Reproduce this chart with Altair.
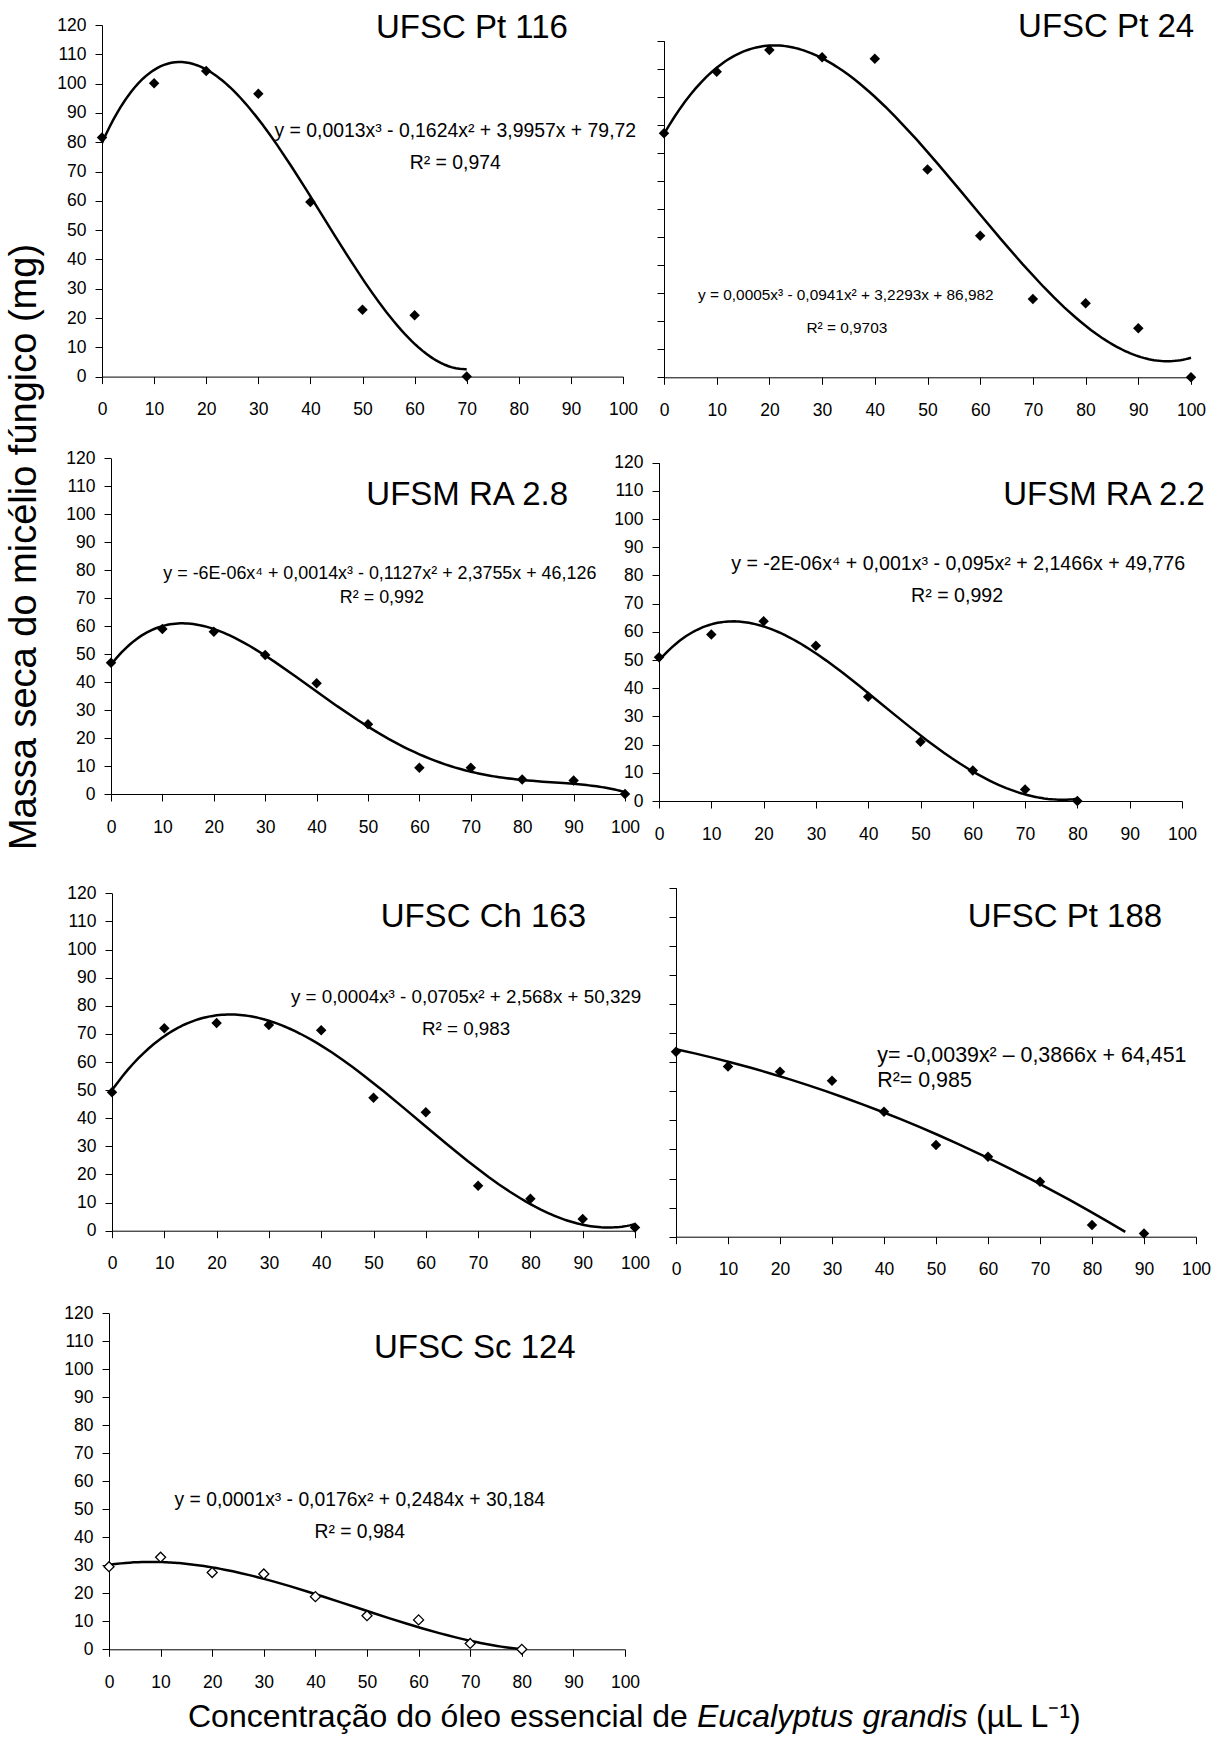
import altair as alt
import pandas as pd

W, H = 1212, 1746

conc = [0, 10, 20, 30, 40, 50, 60, 70, 80, 90, 100]

pt116 = [81.6, 100.1, 104.3, 96.5, 59.6, 22.8, 20.9, 0.0]
pt24 = [87.0, 108.9, 116.7, 114.1, 113.6, 74.1, 50.5, 27.9, 26.4, 17.5, 0.0]
ra28 = [46.9, 59.0, 58.0, 49.7, 39.6, 24.9, 9.4, 9.4, 5.2, 4.8, 0.0]
ra22 = [51.0, 59.1, 63.8, 55.1, 37.0, 21.0, 10.8, 4.1, 0.0]
ch163 = [49.2, 72.0, 73.9, 73.2, 71.3, 47.3, 42.1, 16.0, 11.4, 4.2, 1.1]
pt188 = [63.6, 58.5, 56.7, 53.6, 43.0, 31.5, 27.5, 18.9, 4.0, 1.1]
sc124 = [29.5, 32.9, 27.4, 26.9, 18.8, 12.0, 10.5, 2.1, 0.0]

series = [pt116, pt24, ra28, ra22, ch163, pt188, sc124]
titles = ["UFSC Pt 116", "UFSC Pt 24", "UFSM RA 2.8", "UFSM RA 2.2",
          "UFSC Ch 163", "UFSC Pt 188", "UFSC Sc 124"]
equations = [
    "y = 0,0013x³ - 0,1624x² + 3,9957x + 79,72",
    "y = 0,0005x³ - 0,0941x² + 3,2293x + 86,982",
    "y = -6E-06x⁴ + 0,0014x³ - 0,1127x² + 2,3755x + 46,126",
    "y = -2E-06x⁴ + 0,001x³ - 0,095x² + 2,1466x + 49,776",
    "y = 0,0004x³ - 0,0705x² + 2,568x + 50,329",
    "y= -0,0039x² – 0,3866x + 64,451",
    "y = 0,0001x³ - 0,0176x² + 0,2484x + 30,184",
]
r2_labels = ["R² = 0,974", "R² = 0,9703", "R² = 0,992", "R² = 0,992",
             "R² = 0,983", "R²= 0,985", "R² = 0,984"]
fit_order = [3, 3, 4, 4, 3, 2, 3]

# ---- layout / style (pixels) ----
panel_x = [(102, 623), (664, 1191), (111, 625), (659, 1182),
           (112, 635), (676, 1196), (109, 625)]
panel_y = [(376.6, 25), (377.3, 40.7), (794, 458.3), (801, 462.7),
           (1230.7, 893.3), (1236.7, 887.7), (1649.3, 1313.3)]
y_labels = [True, False, True, True, True, False, True]
open_marker = [False, False, False, False, False, False, True]

# annotation anchor positions in data units (x, y)
title_pos = [(71.0, 115.6), (83.9, 121.3), (69.3, 103.2), (85.1, 105.0),
             (71.0, 108.0), (74.8, 106.5), (70.9, 104.0)]
eq_pos = [(67.8, 81.8), (34.5, 27.6), (52.3, 76.9), (57.2, 81.9),
          (67.7, 80.9), (38.7, 60.1), (48.6, 51.2)]
r2_pos = [(67.8, 70.9), (34.7, 15.8), (52.7, 68.4), (57.0, 70.6),
          (67.7, 69.6), (38.7, 51.5), (48.6, 39.8)]
eq_size = [19.4, 15.4, 17.9, 19.6, 18.8, 21.4, 19.3]
eq_align = ["center"] * 5 + ["left"] + ["center"]

SANS = "Liberation Sans, Arial, Helvetica, sans-serif"
TICK_FONT_SIZE = 17.5
TITLE_FONT_SIZE = 33


def panel(i):
    vals = series[i]
    df = pd.DataFrame({"x": conc[:len(vals)], "y": vals})
    x0, x1 = panel_x[i]
    y0, y1 = panel_y[i]
    xscale = alt.Scale(domain=[0, 100], range=[x0, x1], nice=False, zero=False)
    yscale = alt.Scale(domain=[0, 120], range=[y0, y1], nice=False, zero=False)
    xaxis = alt.Axis(orient="bottom", offset=y0 - H, values=list(range(0, 101, 10)),
                     title=None, grid=False, labelFlush=False, labelOverlap=False,
                     labelFont=SANS, labelFontSize=TICK_FONT_SIZE, labelPadding=17,
                     tickSize=7, domainColor="black", tickColor="black",
                     labelColor="black", domainWidth=1, tickWidth=1)
    yaxis = alt.Axis(orient="left", offset=-x0, values=list(range(0, 121, 10)),
                     title=None, grid=False, labels=y_labels[i], labelFlush=False,
                     labelOverlap=False, labelFont=SANS, labelFontSize=TICK_FONT_SIZE,
                     labelPadding=9, tickSize=7, domainColor="black",
                     tickColor="black", labelColor="black", domainWidth=1, tickWidth=1)
    X = alt.X("x:Q", scale=xscale, axis=xaxis)
    Y = alt.Y("y:Q", scale=yscale, axis=yaxis)

    # polynomial trendline fitted to the points; like the original, it is not drawn below 0
    fit = alt.Chart(df).transform_regression(
        "x", "y", method="poly", order=fit_order[i]
    ).transform_filter("datum.y >= 0")
    line = fit.mark_line(color="black", strokeWidth=2.5).encode(x=X, y=Y)

    if open_marker[i]:
        pts = alt.Chart(df).mark_point(shape="diamond", size=100, filled=True,
                                       fill="white", stroke="black", strokeWidth=1.3,
                                       opacity=1).encode(x=X, y=Y)
    else:
        pts = alt.Chart(df).mark_point(shape="diamond", size=110, filled=True,
                                       color="black", opacity=1).encode(x=X, y=Y)

    tdf = pd.DataFrame({"x": [title_pos[i][0]], "y": [title_pos[i][1]], "label": [titles[i]]})
    ttl = alt.Chart(tdf).mark_text(font=SANS, fontSize=TITLE_FONT_SIZE, align="center",
                                   baseline="alphabetic", color="black").encode(
        x=X, y=Y, text="label:N")

    edf = pd.DataFrame({"x": [eq_pos[i][0]], "y": [eq_pos[i][1]], "label": [equations[i]]})
    eq = alt.Chart(edf).mark_text(font=SANS, fontSize=eq_size[i], align=eq_align[i],
                                  baseline="alphabetic", color="black").encode(
        x=X, y=Y, text="label:N")

    rdf = pd.DataFrame({"x": [r2_pos[i][0]], "y": [r2_pos[i][1]], "label": [r2_labels[i]]})
    r2 = alt.Chart(rdf).mark_text(font=SANS, fontSize=eq_size[i], align=eq_align[i],
                                  baseline="alphabetic", color="black").encode(
        x=X, y=Y, text="label:N")

    return alt.layer(line, pts, ttl, eq, r2)


panels = [panel(i) for i in range(7)]

dummy = pd.DataFrame({"t": [0]})
y_title = alt.Chart(dummy).mark_text(
    text="Massa seca do micélio fúngico (mg)", font=SANS, fontSize=38, angle=270,
    align="center", baseline="middle", color="black"
).encode(x=alt.value(25), y=alt.value(547))

xt1 = alt.Chart(dummy).mark_text(
    text="Concentração do óleo essencial de", font=SANS, fontSize=32,
    align="left", baseline="alphabetic", color="black"
).encode(x=alt.value(188), y=alt.value(1727))
xt2 = alt.Chart(dummy).mark_text(
    text="Eucalyptus grandis", font=SANS, fontSize=32, fontStyle="italic",
    align="left", baseline="alphabetic", color="black"
).encode(x=alt.value(697), y=alt.value(1727))
xt3 = alt.Chart(dummy).mark_text(
    text="(µL L⁻¹)", font=SANS, fontSize=32,
    align="left", baseline="alphabetic", color="black"
).encode(x=alt.value(976), y=alt.value(1727))

chart = alt.layer(*panels, y_title, xt1, xt2, xt3).resolve_scale(
    x="independent", y="independent"
).resolve_axis(
    x="independent", y="independent"
).properties(
    width=W, height=H, padding=0,
    autosize=alt.AutoSizeParams(type="none"),
    background="white",
).configure_view(stroke=None)

chart.save("out.html", embed_options={"renderer": "svg", "actions": False})
